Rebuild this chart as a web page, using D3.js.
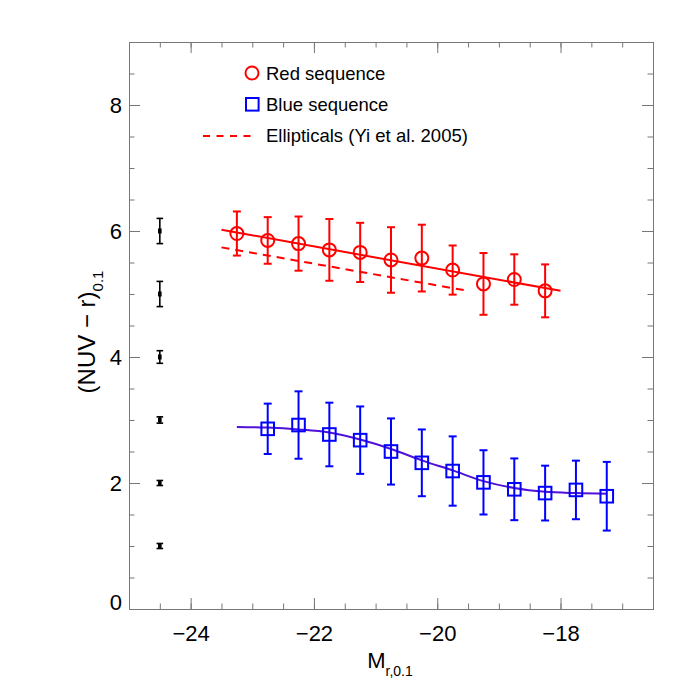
<!DOCTYPE html>
<html>
<head>
<meta charset="utf-8">
<script src="https://cdn.jsdelivr.net/npm/d3@7"></script>
<style>
  body { margin: 0; background: #fff; }
  text { font-family: "Liberation Sans", Arial, Helvetica, sans-serif; }
</style>
</head>
<body>
<svg width="692" height="692"></svg>
<script>
// red sequence
var redMag = [-23.25, -22.75, -22.25, -21.75, -21.25, -20.75, -20.25, -19.75, -19.25, -18.75, -18.25];
var redCol = [5.96, 5.85, 5.80, 5.70, 5.66, 5.54, 5.57, 5.38, 5.16, 5.23, 5.05];
var redErr = [0.35, 0.37, 0.43, 0.49, 0.47, 0.52, 0.53, 0.39, 0.49, 0.40, 0.42];
var redFitMag = [-23.5, -18.0];
var redFitCol = [6.02, 5.05];

// blue sequence
var blueMag = [-22.75, -22.25, -21.75, -21.25, -20.75, -20.25, -19.75, -19.25, -18.75, -18.25, -17.75, -17.25];
var blueCol = [2.86, 2.92, 2.77, 2.68, 2.50, 2.32, 2.19, 2.01, 1.90, 1.84, 1.89, 1.79];
var blueErr = [0.40, 0.535, 0.505, 0.535, 0.525, 0.53, 0.55, 0.51, 0.49, 0.435, 0.465, 0.545];
var blueFitMag = [-23.25, -22.75, -22.25, -21.75, -21.25, -20.75, -20.25, -19.75, -19.25, -18.75, -18.25, -17.75, -17.25];
var blueFitCol = [2.89, 2.88, 2.85, 2.80, 2.69, 2.54, 2.36, 2.20, 2.03, 1.92, 1.86, 1.84, 1.83];

// ellipticals (Yi et al. 2005)
var ellMag = [-23.5, -19.5];
var ellCol = [5.74, 5.05];

// typical errors, drawn at the left
var typMag = -24.5;
var typCol = [1, 2, 3, 4, 5, 6];
var typErr = [0.04, 0.04, 0.05, 0.1, 0.2, 0.2];

var xTicks = [-24, -22, -20, -18];
var yTicks = [0, 2, 4, 6, 8];

var svg = d3.select("svg");
var pLeft = 129, pRight = 653, pTop = 42, pBottom = 609;

var x = d3.scaleLinear().domain([-25, -16.5]).range([pLeft, pRight]);
var y = d3.scaleLinear().domain([0, 9]).range([pBottom, pTop]);

var xMinor = d3.range(-25, -16.4, 0.5);
var yMinor = d3.range(0, 9.01, 0.5);
var fmt = d3.format("d");
var axisCol = "#777";

function styleAxis(g) {
  g.select(".domain").attr("stroke", axisCol);
  g.selectAll(".tick line").attr("stroke", axisCol);
  g.selectAll("text").attr("fill", "#000").attr("font-size", 22)
    .attr("font-family", '"Liberation Sans", Arial, Helvetica, sans-serif');
}

// minor ticks first
svg.append("g").attr("transform", "translate(0," + pBottom + ")")
  .call(d3.axisBottom(x).tickValues(xMinor).tickSize(-5.5).tickFormat("")).call(styleAxis);
svg.append("g").attr("transform", "translate(0," + pTop + ")")
  .call(d3.axisTop(x).tickValues(xMinor).tickSize(-5.5).tickFormat("")).call(styleAxis);
svg.append("g").attr("transform", "translate(" + pLeft + ",0)")
  .call(d3.axisLeft(y).tickValues(yMinor).tickSize(-5.5).tickFormat("")).call(styleAxis);
svg.append("g").attr("transform", "translate(" + pRight + ",0)")
  .call(d3.axisRight(y).tickValues(yMinor).tickSize(-5.5).tickFormat("")).call(styleAxis);

// major ticks
svg.append("g").attr("transform", "translate(0," + pBottom + ")")
  .call(d3.axisBottom(x).tickValues(xTicks).tickSize(-11).tickPadding(16)
    .tickFormat(d => fmt(d).replace("-", "\u2212"))).call(styleAxis);
svg.append("g").attr("transform", "translate(0," + pTop + ")")
  .call(d3.axisTop(x).tickValues(xTicks).tickSize(-11).tickFormat("")).call(styleAxis);
var yAx = svg.append("g").attr("transform", "translate(" + pLeft + ",0)")
  .call(d3.axisLeft(y).tickValues(yTicks).tickSize(-11).tickPadding(7).tickFormat(fmt)).call(styleAxis);
yAx.selectAll(".tick text").filter(d => d === 0).attr("dy", "0em");
svg.append("g").attr("transform", "translate(" + pRight + ",0)")
  .call(d3.axisRight(y).tickValues(yTicks).tickSize(-11).tickFormat("")).call(styleAxis);

// axis titles
var xt = svg.append("text").attr("x", 390).attr("y", 668).attr("text-anchor", "middle").attr("font-size", 22);
xt.append("tspan").text("M");
xt.append("tspan").attr("font-size", 14).attr("dy", 8).text("r,0.1");

var yt = svg.append("text").attr("transform", "translate(95,332) rotate(-90)")
  .attr("text-anchor", "middle").attr("font-size", 24);
yt.append("tspan").text("(NUV \u2212 r)");
yt.append("tspan").attr("font-size", 15).attr("dy", 8).text("0.1");

var line = d3.line().x(d => x(d[0])).y(d => y(d[1]));

// error bars helper
function errBars(mags, cols, errs, color, cap, width) {
  var g = svg.append("g").attr("stroke", color).attr("stroke-width", width).attr("fill", "none");
  mags.forEach(function (m, i) {
    var lo = y(cols[i] - errs[i]), hi = y(cols[i] + errs[i]), cx = x(m);
    g.append("line").attr("x1", cx).attr("x2", cx).attr("y1", lo).attr("y2", hi);
    g.append("line").attr("x1", cx - cap).attr("x2", cx + cap).attr("y1", lo).attr("y2", lo);
    g.append("line").attr("x1", cx - cap).attr("x2", cx + cap).attr("y1", hi).attr("y2", hi);
  });
}

// typical errors
var typMags = typCol.map(() => typMag);
errBars(typMags, typCol, typErr, "#000", 3.3, 1.6);
svg.append("g").selectAll("rect").data(typCol).join("rect")
  .attr("x", x(typMag) - 1.8).attr("y", d => y(d) - 2.5)
  .attr("width", 3.6).attr("height", 5).attr("fill", "#000");

// ellipticals
svg.append("path").datum(d3.zip(ellMag, ellCol)).attr("d", line)
  .attr("fill", "none").attr("stroke", "#ff0000").attr("stroke-width", 2)
  .attr("stroke-dasharray", "8,6");

// red sequence
svg.append("path").datum(d3.zip(redFitMag, redFitCol)).attr("d", line)
  .attr("fill", "none").attr("stroke", "#ff0000").attr("stroke-width", 2);
errBars(redMag, redCol, redErr, "#ff0000", 4, 2);
svg.append("g").selectAll("circle").data(d3.zip(redMag, redCol)).join("circle")
  .attr("cx", d => x(d[0])).attr("cy", d => y(d[1])).attr("r", 6.5)
  .attr("fill", "none").attr("stroke", "#ff0000").attr("stroke-width", 2);

// blue sequence
svg.append("path").datum(d3.zip(blueFitMag, blueFitCol))
  .attr("d", line.curve(d3.curveMonotoneX))
  .attr("fill", "none").attr("stroke", "#5010d8").attr("stroke-width", 2);
errBars(blueMag, blueCol, blueErr, "#0000ff", 4, 2);
svg.append("g").selectAll("rect").data(d3.zip(blueMag, blueCol)).join("rect")
  .attr("x", d => x(d[0]) - 6.3).attr("y", d => y(d[1]) - 6.3)
  .attr("width", 12.6).attr("height", 12.6)
  .attr("fill", "none").attr("stroke", "#0000ff").attr("stroke-width", 2);

// legend
var lg = svg.append("g").attr("font-size", 18.5);
lg.append("circle").attr("cx", 252).attr("cy", 73).attr("r", 6.5)
  .attr("fill", "none").attr("stroke", "#ff0000").attr("stroke-width", 2);
lg.append("text").attr("x", 266).attr("y", 79.5).text("Red sequence");
lg.append("rect").attr("x", 246).attr("y", 98).attr("width", 12.6).attr("height", 12.6)
  .attr("fill", "none").attr("stroke", "#0000ff").attr("stroke-width", 2);
lg.append("text").attr("x", 266).attr("y", 110.5).text("Blue sequence");
lg.append("line").attr("x1", 203).attr("x2", 253).attr("y1", 136).attr("y2", 136)
  .attr("stroke", "#ff0000").attr("stroke-width", 2).attr("stroke-dasharray", "7,6.5");
lg.append("text").attr("x", 266).attr("y", 142).text("Ellipticals (Yi et al. 2005)");
</script>
</body>
</html>
